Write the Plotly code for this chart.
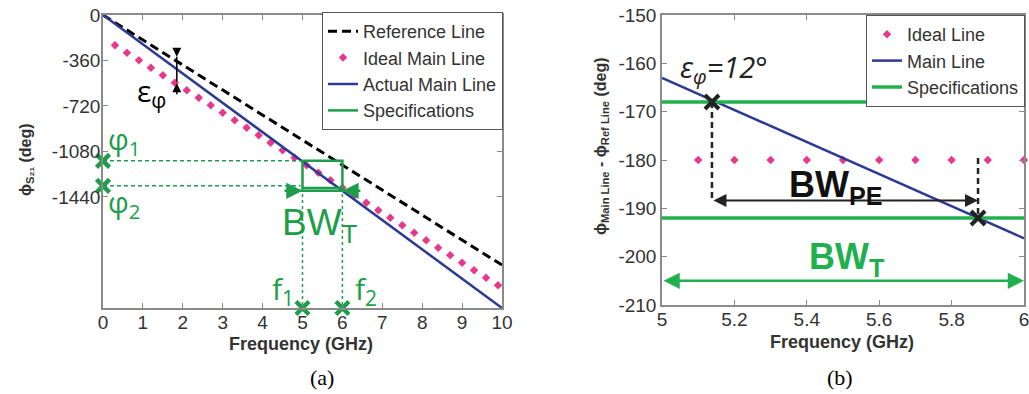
import plotly.graph_objects as go

# ---------------- data (a) ----------------
ref_freq = [0, 10]
ref_phase = [0, -1980]
main_freq = [0, 10]
main_phase = [0, -2320]
ideal_freq = [0.3, 0.6, 0.9, 1.2, 1.5, 1.8, 2.1, 2.4, 2.7, 3.0, 3.3, 3.6, 3.9, 4.2, 4.5, 4.8, 5.1,
              5.4, 5.7, 6.0, 6.3, 6.6, 6.9, 7.2, 7.5, 7.8, 8.1, 8.4, 8.7, 9.0, 9.3, 9.6, 9.9]
ideal_phase = [-239, -299, -358, -418, -477, -536, -596, -655, -715, -774, -833, -893, -952, -1012,
               -1071, -1130, -1190, -1249, -1309, -1368, -1427, -1487, -1546, -1606, -1665, -1724,
               -1784, -1843, -1903, -1962, -2021, -2081, -2140]
f1, f2 = 5.0, 6.0
phi1, phi2 = -1155, -1353
box_bottom = -1370
bwt_level_a = -1392
a_xticks = [0, 1, 2, 3, 4, 5, 6, 7, 8, 9, 10]
a_yticks = [0, -360, -720, -1080, -1440]
a_ytext = ["0", "-360", "-720", "-1080", "-1440"]

# ---------------- data (b) ----------------
b_main_freq = [5.0, 6.0]
b_main_phase = [-163.0, -196.2]
b_ideal_freq = [5.1, 5.2, 5.3, 5.4, 5.5, 5.6, 5.7, 5.8, 5.9, 6.0]
b_ideal_phase = [-180, -180, -180, -180, -180, -180, -180, -180, -180, -180]
spec_hi, spec_lo = -168, -192
cross_freq = [5.138, 5.873]
cross_phase = [-168, -192]
bwpe_level = -188.4
bwt_level_b = -205
b_xticks = [5, 5.2, 5.4, 5.6, 5.8, 6]
b_xtext = ["5", "5.2", "5.4", "5.6", "5.8", "6"]
b_yticks = [-150, -160, -170, -180, -190, -200, -210]
b_ytext = ["-150", "-160", "-170", "-180", "-190", "-200", "-210"]

W, H = 1029, 394
BLUE = "#2c3a93"
PINK = "#e8388c"
GREEN = "#1e9e4a"
GREEN_B = "#22b04e"
FONT = "Liberation Sans, Arial, sans-serif"
AX = "#8a8a8a"
TXT = "#333333"

fig = go.Figure()

# ---- (a) traces
fig.add_trace(go.Scatter(x=ref_freq, y=ref_phase, mode="lines", name="Reference Line",
                         line=dict(color="black", width=3, dash="9px,5px"), legend="legend"))
fig.add_trace(go.Scatter(x=ideal_freq, y=ideal_phase, mode="markers", name="Ideal Main Line",
                         marker=dict(color=PINK, size=6.5, symbol="diamond"), legend="legend"))
fig.add_trace(go.Scatter(x=main_freq, y=main_phase, mode="lines", name="Actual Main Line",
                         line=dict(color=BLUE, width=2.5), legend="legend"))
fig.add_trace(go.Scatter(x=[f1, f2, f2, f1, f1], y=[phi1, phi1, box_bottom, box_bottom, phi1],
                         mode="lines", name="Specifications",
                         line=dict(color=GREEN, width=2.5), legend="legend"))
# guide lines
fig.add_trace(go.Scatter(x=[0, f1], y=[phi1, phi1], mode="lines", showlegend=False,
                         line=dict(color=GREEN, width=1.5, dash="4px,3px")))
fig.add_trace(go.Scatter(x=[0, f1 - 0.05], y=[phi2, phi2], mode="lines", showlegend=False,
                         line=dict(color=GREEN, width=1.5, dash="4px,3px")))
fig.add_trace(go.Scatter(x=[f1, f1], y=[box_bottom, main_phase[1]], mode="lines", showlegend=False,
                         line=dict(color=GREEN, width=1.5, dash="3px,3px")))
fig.add_trace(go.Scatter(x=[f2, f2], y=[box_bottom, main_phase[1]], mode="lines", showlegend=False,
                         line=dict(color=GREEN, width=1.5, dash="3px,3px")))
fig.add_trace(go.Scatter(x=[f1 - 0.45, f2 + 0.45], y=[bwt_level_a, bwt_level_a], mode="lines",
                         showlegend=False, line=dict(color=GREEN, width=2.5)))
fig.add_trace(go.Scatter(x=[0, 0, f1, f2], y=[phi1, phi2, main_phase[1], main_phase[1]],
                         mode="markers", showlegend=False, cliponaxis=False,
                         marker=dict(symbol="x-thin", size=13, line=dict(color=GREEN, width=4.5))))

# ---- (b) traces
fig.add_trace(go.Scatter(x=b_ideal_freq, y=b_ideal_phase, mode="markers", name="Ideal Line",
                         marker=dict(color=PINK, size=6.5, symbol="diamond"), cliponaxis=False,
                         xaxis="x2", yaxis="y2", legend="legend2"))
fig.add_trace(go.Scatter(x=b_main_freq, y=b_main_phase, mode="lines", name="Main Line",
                         line=dict(color=BLUE, width=2.5), xaxis="x2", yaxis="y2", legend="legend2"))
fig.add_trace(go.Scatter(x=[5, 6], y=[spec_hi, spec_hi], mode="lines", name="Specifications",
                         line=dict(color=GREEN_B, width=3.5), xaxis="x2", yaxis="y2", legend="legend2"))
fig.add_trace(go.Scatter(x=[5, 6], y=[spec_lo, spec_lo], mode="lines", showlegend=False,
                         line=dict(color=GREEN_B, width=3.5), xaxis="x2", yaxis="y2"))
fig.add_trace(go.Scatter(x=[cross_freq[0], cross_freq[0]], y=[cross_phase[0], bwpe_level],
                         mode="lines", showlegend=False, xaxis="x2", yaxis="y2",
                         line=dict(color="#222", width=2.5, dash="6px,4px")))
fig.add_trace(go.Scatter(x=[cross_freq[1], cross_freq[1]], y=[-179.6, cross_phase[1]],
                         mode="lines", showlegend=False, xaxis="x2", yaxis="y2",
                         line=dict(color="#222", width=2.5, dash="6px,4px")))
fig.add_trace(go.Scatter(x=cross_freq, y=cross_phase, mode="markers", showlegend=False,
                         xaxis="x2", yaxis="y2",
                         marker=dict(symbol="x-thin", size=14, line=dict(color="#222", width=4))))

ann = []
# (a) annotations
ann.append(dict(x=1.85, y=-330, ax=1.85, ay=-250, xref="x", yref="y", axref="x", ayref="y",
                showarrow=True, arrowhead=2, arrowsize=1.2, arrowwidth=1.5, arrowcolor="black", text=""))
ann.append(dict(x=1.85, y=-540, ax=1.85, ay=-640, xref="x", yref="y", axref="x", ayref="y",
                showarrow=True, arrowhead=2, arrowsize=1.2, arrowwidth=1.5, arrowcolor="black", text=""))
ann.append(dict(x=1.85, y=-330, ax=1.85, ay=-540, xref="x", yref="y", axref="x", ayref="y",
                showarrow=True, arrowhead=0, arrowwidth=1.5, arrowcolor="black", text=""))
ann.append(dict(x=f1, y=bwt_level_a, ax=f1 - 0.45, ay=bwt_level_a, xref="x", yref="y", axref="x",
                ayref="y", showarrow=True, arrowhead=2, arrowsize=1.3, arrowwidth=2.5,
                arrowcolor=GREEN, text=""))
ann.append(dict(x=f2, y=bwt_level_a, ax=f2 + 0.45, ay=bwt_level_a, xref="x", yref="y", axref="x",
                ayref="y", showarrow=True, arrowhead=2, arrowsize=1.3, arrowwidth=2.5,
                arrowcolor=GREEN, text=""))
ann.append(dict(x=1.22, y=-610, xref="x", yref="y", showarrow=False, text="ε<sub>φ</sub>",
                font=dict(family="Open Sans, DejaVu Sans", size=30, color="black")))
ann.append(dict(x=0.52, y=-990, xref="x", yref="y", showarrow=False, text="φ<sub>1</sub>",
                font=dict(family="Open Sans, DejaVu Sans", size=29, color=GREEN)))
ann.append(dict(x=0.52, y=-1495, xref="x", yref="y", showarrow=False, text="φ<sub>2</sub>",
                font=dict(family="Open Sans, DejaVu Sans", size=29, color=GREEN)))
ann.append(dict(x=5.45, y=-1660, xref="x", yref="y", showarrow=False, text="BW<sub>T</sub>",
                font=dict(family=FONT, size=37, color=GREEN)))
ann.append(dict(x=4.52, y=-2175, xref="x", yref="y", showarrow=False, text="f<sub>1</sub>",
                font=dict(family="Open Sans, DejaVu Sans", size=30, color=GREEN)))
ann.append(dict(x=6.6, y=-2175, xref="x", yref="y", showarrow=False, text="f<sub>2</sub>",
                font=dict(family="Open Sans, DejaVu Sans", size=30, color=GREEN)))
# (b) annotations
ann.append(dict(x=cross_freq[1], y=bwpe_level, ax=cross_freq[0], ay=bwpe_level, xref="x2", yref="y2",
                axref="x2", ayref="y2", showarrow=True, arrowhead=2, arrowside="end+start",
                arrowsize=1.3, arrowwidth=2, arrowcolor="#222", text=""))
ann.append(dict(x=6, y=bwt_level_b, ax=5, ay=bwt_level_b, xref="x2", yref="y2",
                axref="x2", ayref="y2", showarrow=True, arrowhead=2, arrowside="end+start",
                arrowsize=1.3, arrowwidth=2.5, arrowcolor=GREEN_B, text=""))
ann.append(dict(x=5.17, y=-161, xref="x2", yref="y2", showarrow=False,
                text="<i>ε<sub>φ</sub>=12°</i>",
                font=dict(family="Open Sans, DejaVu Sans", size=29, color="#222")))
ann.append(dict(x=5.48, y=-185.5, xref="x2", yref="y2", showarrow=False, text="<b>BW<sub>PE</sub></b>",
                font=dict(family=FONT, size=36, color="#111")))
ann.append(dict(x=5.51, y=-200.5, xref="x2", yref="y2", showarrow=False, text="<b>BW<sub>T</sub></b>",
                font=dict(family=FONT, size=36, color=GREEN_B)))
# axis titles (placed as paper annotations)
ann.append(dict(x=301 / W, y=1 - 344 / H, xref="paper", yref="paper", showarrow=False,
                xanchor="center", yanchor="middle", text="<b>Frequency (GHz)</b>",
                font=dict(family=FONT, size=18, color=TXT)))
ann.append(dict(x=842 / W, y=1 - 342 / H, xref="paper", yref="paper", showarrow=False,
                xanchor="center", yanchor="middle", text="<b>Frequency (GHz)</b>",
                font=dict(family=FONT, size=18, color=TXT)))
ann.append(dict(x=26 / W, y=1 - 160 / H, xref="paper", yref="paper", showarrow=False, textangle=-90,
                xanchor="center", yanchor="middle", text="<b>ϕ<sub>S₂₁</sub> (deg)</b>",
                font=dict(family=FONT, size=16, color=TXT)))
ann.append(dict(x=601 / W, y=1 - 146 / H, xref="paper", yref="paper", showarrow=False, textangle=-90,
                xanchor="center", yanchor="middle",
                text="<b>ϕ<sub>Main Line</sub> - ϕ<sub>Ref Line</sub> (deg)</b>",
                font=dict(family=FONT, size=16, color=TXT)))
# captions
ann.append(dict(x=322 / W, y=1 - 377 / H, xref="paper", yref="paper", showarrow=False, text="(a)",
                xanchor="center", yanchor="middle",
                font=dict(family="Liberation Serif, Times New Roman, serif", size=22, color="black")))
ann.append(dict(x=840 / W, y=1 - 377 / H, xref="paper", yref="paper", showarrow=False, text="(b)",
                xanchor="center", yanchor="middle",
                font=dict(family="Liberation Serif, Times New Roman, serif", size=22, color="black")))

axis_common = dict(showgrid=False, zeroline=False, showline=True, linecolor=AX, linewidth=1.5,
                   mirror="ticks", ticks="inside", ticklen=5, tickcolor=AX, automargin=False,
                   tickfont=dict(family=FONT, size=19, color=TXT))

fig.update_layout(
    width=W, height=H, margin=dict(l=0, r=0, t=0, b=0, autoexpand=False),
    paper_bgcolor="white", plot_bgcolor="white",
    font=dict(family=FONT, color=TXT),
    xaxis=dict(domain=[103 / W, 502 / W], range=[0, 10], tickvals=a_xticks, anchor="y",
               ticklabelstandoff=-4, ticklabeloverflow="allow", **axis_common),
    yaxis=dict(domain=[1 - 308 / H, 1 - 15 / H], range=[-2320, 0], tickvals=a_yticks,
               ticktext=a_ytext, anchor="x", ticklabelstandoff=-3, **axis_common),
    xaxis2=dict(domain=[662 / W, 1024 / W], range=[5, 6], tickvals=b_xticks, ticktext=b_xtext,
                anchor="y2", ticklabelstandoff=-4, ticklabeloverflow="allow", **axis_common),
    yaxis2=dict(domain=[1 - 305 / H, 1 - 15 / H], range=[-210, -150], tickvals=b_yticks,
                ticktext=b_ytext, anchor="x2", **axis_common),
    legend=dict(x=503 / W, xanchor="right", y=1 - 12 / H, yanchor="top", bgcolor="white",
                bordercolor="#555", borderwidth=1, font=dict(family=FONT, size=18, color=TXT),
                tracegroupgap=0),
    legend2=dict(x=1025 / W, xanchor="right", y=1 - 15 / H, yanchor="top", bgcolor="white",
                 bordercolor="#555", borderwidth=1, font=dict(family=FONT, size=18, color=TXT),
                 tracegroupgap=0),
    annotations=ann,
)

fig.write_html("out.html")
